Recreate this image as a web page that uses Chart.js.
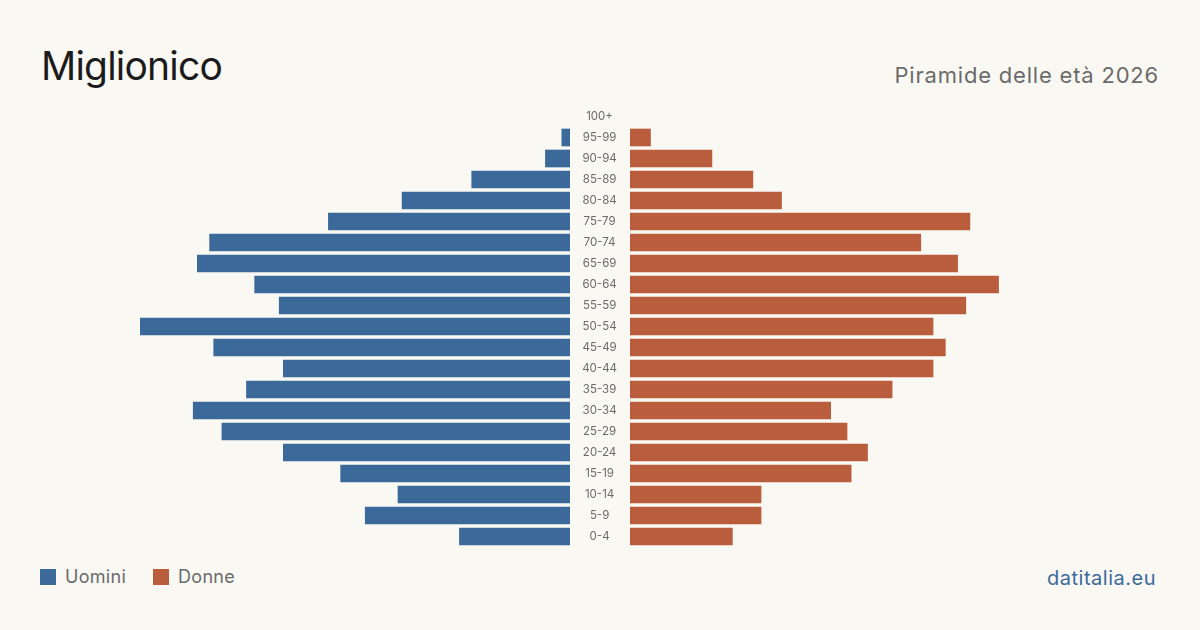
<!DOCTYPE html>
<html>
<head>
<meta charset="utf-8">
<script src="https://cdn.jsdelivr.net/npm/chart.js@4/dist/chart.umd.min.js"></script>
<style>
  html, body { margin: 0; padding: 0; }
  body { width: 1200px; height: 630px; background: #faf8f3; position: relative; overflow: hidden; font-family: Inter, "Noto Sans", sans-serif; }
  #titolo { position: absolute; left: 41px; top: 46px; font-size: 39px; color: #1b1b1b; line-height: 1; letter-spacing: -0.8px; }
  #sottotitolo { position: absolute; right: 41px; top: 64px; font-size: 22px; color: #6b6b6b; line-height: 1; letter-spacing: 0.8px; }
  #boxUomini { position: absolute; left: 140px; top: 106px; width: 430px; height: 441px; }
  #boxDonne { position: absolute; left: 570px; top: 106px; width: 490px; height: 441px; }
  .legenda { position: absolute; top: 566px; font-size: 18px; color: #6b6b6b; display: flex; align-items: center; letter-spacing: 0.3px; }
  .legenda i { display: inline-block; width: 16px; height: 16px; margin-right: 9px; }
  #fonte { position: absolute; right: 44px; top: 566px; font-size: 20px; color: #3b6a9a; letter-spacing: 0.5px; }
</style>
</head>
<body>
<div id="titolo">Miglionico</div>
<div id="sottotitolo">Piramide delle età 2026</div>
<div id="boxUomini"><canvas id="chartUomini"></canvas></div>
<div id="boxDonne"><canvas id="chartDonne"></canvas></div>
<div class="legenda" style="left:40px"><i style="background:#3b6a9a"></i>Uomini</div>
<div class="legenda" style="left:153px"><i style="background:#ba5d3d"></i>Donne</div>
<div id="fonte">datitalia.eu</div>

<script>
// classi di età dall'alto verso il basso
const classi = ["100+", "95-99", "90-94", "85-89", "80-84", "75-79", "70-74", "65-69", "60-64", "55-59",
                "50-54", "45-49", "40-44", "35-39", "30-34", "25-29", "20-24", "15-19", "10-14", "5-9", "0-4"];
const uomini = [0, 2, 6, 24, 41, 59, 88, 91, 77, 71, 105, 87, 70, 79, 92, 85, 70, 56, 42, 50, 27];
const donne  = [0, 5, 20, 30, 37, 83, 71, 80, 90, 82, 74, 77, 74, 64, 49, 53, 58, 54, 32, 32, 25];
const massimo = 105;

const BLU = "#3b6a9a";
const ARANCIO = "#ba5d3d";

Chart.defaults.font.family = "Inter, 'Noto Sans', sans-serif";
Chart.defaults.animation = false;

const opzioniBase = {
    indexAxis: 'y',
    responsive: true,
    maintainAspectRatio: false,
    layout: { padding: 0 },
    plugins: { legend: { display: false }, tooltip: { enabled: false } }
};

// le classi vuote non disegnano niente
const senzaZeri = arr => arr.map(v => v === 0 ? null : v);

// Uomini: barre verso sinistra
new Chart(document.getElementById("chartUomini"), {
    type: 'bar',
    data: {
        labels: classi,
        datasets: [{ data: senzaZeri(uomini), backgroundColor: BLU, borderWidth: 0, barThickness: 17 }]
    },
    options: {
        ...opzioniBase,
        scales: {
            x: { min: 0, max: massimo, reverse: true, display: false },
            y: { display: false }
        }
    }
});

// Donne: barre verso destra, etichette delle classi al centro
new Chart(document.getElementById("chartDonne"), {
    type: 'bar',
    data: {
        labels: classi,
        datasets: [{ data: senzaZeri(donne), backgroundColor: ARANCIO, borderWidth: 0, barThickness: 17 }]
    },
    options: {
        ...opzioniBase,
        scales: {
            x: { min: 0, max: massimo, display: false },
            y: {
                grid: { display: false, drawTicks: false },
                border: { display: false },
                ticks: { color: "#6b6b6b", font: { size: 11.5 }, padding: 13, crossAlign: 'center', autoSkip: false },
                afterFit: (scale) => {
                    scale.width = 60;
                    scale.paddingTop = 0;
                    scale.paddingBottom = 0;
                }
            }
        }
    }
});
</script>
</body>
</html>
